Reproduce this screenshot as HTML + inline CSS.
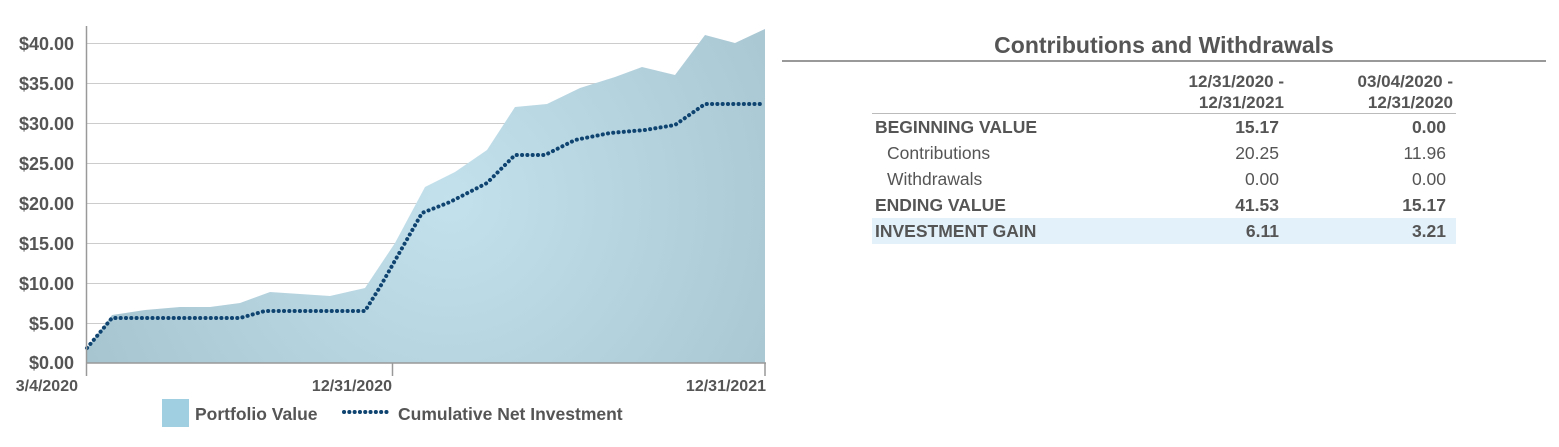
<!DOCTYPE html>
<html><head><style>
body{margin:0;width:1559px;height:447px;background:#fff;font-family:"Liberation Sans",Arial,sans-serif;overflow:hidden;position:relative}
.t{position:absolute;color:#555;font-weight:bold}
td{padding:0;height:26px;font-size:17.5px;color:#555;white-space:nowrap}
.b{font-weight:bold}
.r2{text-align:right;padding-right:11px}
.r3{text-align:right;padding-right:10px}
</style></head><body>
<svg width="780" height="447" style="position:absolute;left:0;top:0" font-family="Liberation Sans,Arial,sans-serif">
<defs><radialGradient id="g" cx="450" cy="200" r="420" gradientUnits="userSpaceOnUse">
<stop offset="0" stop-color="#c3e1ed"/><stop offset="1" stop-color="#a5c3cf"/></radialGradient></defs>
<g stroke="#ccc" stroke-width="1">
<line x1="86" x2="765" y1="43.5" y2="43.5"/><line x1="86" x2="765" y1="83.5" y2="83.5"/><line x1="86" x2="765" y1="123.5" y2="123.5"/><line x1="86" x2="765" y1="163.5" y2="163.5"/><line x1="86" x2="765" y1="203.5" y2="203.5"/><line x1="86" x2="765" y1="243.5" y2="243.5"/><line x1="86" x2="765" y1="283.5" y2="283.5"/><line x1="86" x2="765" y1="323.5" y2="323.5"/>
</g>
<polygon fill="url(#g)" points="86,363 87,348 112,315 145,310 180,307 210,307 240,303 270,292 300,294 330,296 365,288 395,243 425,187 455,172 487,150 515,107 547,104 580,88 615,77 642,67 675,75 705,35 735,43 765,29 765,363"/>
<polyline fill="none" stroke="#0f4471" stroke-width="4" stroke-dasharray="0.1 5.2" stroke-linecap="round" points="87,348 112,318 240,318 265,311 365,311 380,287 422,213 450,202 487,183 515,155 545,155 575,140 610,133 645,130 675,125 705,104 765,104"/>
<g stroke="#999" stroke-width="1.5"><line x1="86.5" y1="26" x2="86.5" y2="376"/><line x1="86" y1="363" x2="766" y2="363"/><line x1="392.5" y1="363" x2="392.5" y2="376"/><line x1="765" y1="363" x2="765" y2="376"/></g>
<g fill="#555" font-weight="bold" font-size="18" text-anchor="end" textLength="58">
<text x="74" y="50">$40.00</text><text x="74" y="90">$35.00</text><text x="74" y="130">$30.00</text><text x="74" y="170">$25.00</text><text x="74" y="210">$20.00</text><text x="74" y="250">$15.00</text><text x="74" y="290">$10.00</text><text x="74" y="330">$5.00</text><text x="74" y="369">$0.00</text>
</g>
<g fill="#555" font-weight="bold" font-size="16">
<text x="78" y="391" text-anchor="end">3/4/2020</text><text x="392" y="391" text-anchor="end">12/31/2020</text><text x="766" y="391" text-anchor="end">12/31/2021</text>
<rect x="162" y="399" width="27" height="28" fill="#9fcfe0"/>
<text x="195" y="420" font-size="17.5">Portfolio Value</text>
<line x1="344" y1="412" x2="388" y2="412" stroke="#0f4471" stroke-width="4" stroke-dasharray="0.1 5.2" stroke-linecap="round"/>
<text x="398" y="420" font-size="17.5">Cumulative Net Investment</text>
</g>
</svg>
<div class="t" style="left:782px;width:764px;top:32px;text-align:center;font-size:23px">Contributions and Withdrawals</div>
<div style="position:absolute;left:782px;top:60px;width:764px;height:2px;background:#999"></div>
<table style="position:absolute;left:872px;top:70px;width:584px;border-collapse:collapse;table-layout:fixed">
<col style="width:258px"><col style="width:160px"><col style="width:166px">
<tr><td style="height:43px;border-bottom:1px solid #bbb"></td><td class="b" style="text-align:right;line-height:21px;padding-right:6px;border-bottom:1px solid #bbb;font-size:17px">12/31/2020 -<br>12/31/2021</td><td class="b" style="text-align:right;line-height:21px;padding-right:3px;border-bottom:1px solid #bbb;font-size:17px">03/04/2020 -<br>12/31/2020</td></tr>
<tr><td class="b" style="padding-left:3px">BEGINNING VALUE</td><td class="b r2">15.17</td><td class="b r3">0.00</td></tr>
<tr><td style="padding-left:15px">Contributions</td><td class="r2">20.25</td><td class="r3">11.96</td></tr>
<tr><td style="padding-left:15px">Withdrawals</td><td class="r2">0.00</td><td class="r3">0.00</td></tr>
<tr><td class="b" style="padding-left:3px">ENDING VALUE</td><td class="b r2">41.53</td><td class="b r3">15.17</td></tr>
<tr style="background:#e2f1fa"><td class="b" style="padding-left:3px;height:23px">INVESTMENT GAIN</td><td class="b r2">6.11</td><td class="b r3">3.21</td></tr>
</table>
</body></html>
